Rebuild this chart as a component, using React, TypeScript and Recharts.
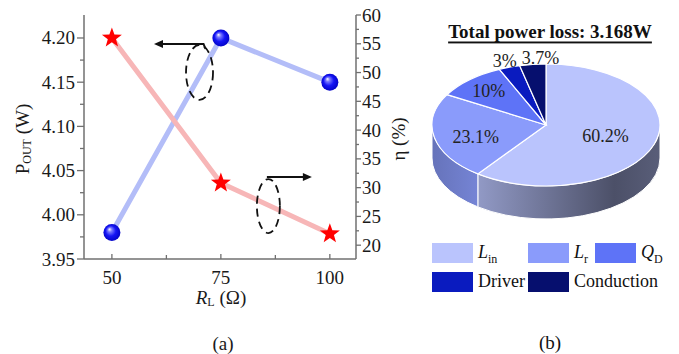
import React from 'react';
import { LineChart, Line, XAxis, YAxis, ReferenceDot, PieChart, Pie, Legend } from 'recharts';

const FONT = '"Liberation Serif", "Times New Roman", serif';
const AXIS = '#707070';
const INK = '#1a1a1a';

// ---------- panel (a) data ----------
const loadResistance = [50, 75, 100];
const outputPower = [3.98, 4.2, 4.15];
const efficiency = [56, 30.8, 22.0];

const xTicks = [50, 62.5, 75, 87.5, 100];
const xMajor = [50, 75, 100];
const leftTicks = [3.95, 3.975, 4.0, 4.025, 4.05, 4.075, 4.1, 4.125, 4.15, 4.175, 4.2];
const leftMajor = [3.95, 4.0, 4.05, 4.1, 4.15, 4.2];
const rightTicks = [20, 22.5, 25, 27.5, 30, 32.5, 35, 37.5, 40, 42.5, 45, 47.5, 50, 52.5, 55, 57.5, 60];
const rightMajor = [20, 25, 30, 35, 40, 45, 50, 55, 60];

// ---------- panel (b) data ----------
const lossNames = ['Lin', 'Lr', 'QD', 'Driver', 'Conduction'];
const lossShares = [60.2, 23.1, 10, 3, 3.7];
const lossLabels = ['60.2%', '23.1%', '10%', '3%', '3.7%'];
const lossLegendMain = ['L', 'L', 'Q', 'Driver', 'Conduction'];
const lossLegendSub = ['in', 'r', 'D', '', ''];
const lossColors = ['#bac4fd', '#8a9bfb', '#5e73f7', '#0a1bbf', '#060f6e'];

const lineData = loadResistance.map((load, i) => ({ load, pout: outputPower[i], eta: efficiency[i] }));
const pieData = lossNames.map((name, i) => ({ name, value: lossShares[i] }));

const isIn = (arr: number[], v: number) => arr.some((m) => Math.abs(m - v) < 1e-6);

// ---------- ticks ----------
const LeftTick = (p: any) => {
  const { x, y, payload } = p;
  const major = isIn(leftMajor, payload.value);
  return (
    <g>
      <line x1={x} x2={x - (major ? 7 : 4)} y1={y} y2={y} stroke={AXIS} strokeWidth={1.3} />
      {major && (
        <text x={x - 9} y={y} textAnchor="end" dominantBaseline="central" fontSize={19} fontFamily={FONT} fill={INK}>
          {payload.value.toFixed(2)}
        </text>
      )}
    </g>
  );
};

const RightTick = (p: any) => {
  const { x, y, payload } = p;
  const major = isIn(rightMajor, payload.value);
  return (
    <g>
      <line x1={x} x2={x + (major ? 5 : 3)} y1={y} y2={y} stroke={AXIS} strokeWidth={1.3} />
      {major && (
        <text x={x + 6} y={y} textAnchor="start" dominantBaseline="central" fontSize={19} fontFamily={FONT} fill={INK}>
          {payload.value}
        </text>
      )}
    </g>
  );
};

const BottomTick = (p: any) => {
  const { x, y, payload } = p;
  const major = isIn(xMajor, payload.value);
  return (
    <g>
      <line x1={x} x2={x} y1={y} y2={y - (major ? 5 : 4)} stroke={AXIS} strokeWidth={1.3} />
      {major && (
        <text x={x} y={y + 18} textAnchor="middle" dominantBaseline="central" fontSize={19} fontFamily={FONT} fill={INK}>
          {payload.value}
        </text>
      )}
    </g>
  );
};

const TopTick = (p: any) => {
  const { x, y, payload } = p;
  const major = isIn(xMajor, payload.value);
  return <line x1={x} x2={x} y1={y} y2={y + (major ? 5 : 4)} stroke={AXIS} strokeWidth={1.3} />;
};

// ---------- markers ----------
const Sphere = (p: any) => {
  const { cx, cy, index } = p;
  if (cx == null || cy == null) return <g key={`sph-${index}`} />;
  const id = `sphere-grad-${index}`;
  return (
    <g key={`sph-${index}`}>
      <defs>
        <radialGradient id={id} cx="50%" cy="50%" r="55%" fx="35%" fy="30%">
          <stop offset="0" stopColor="#ffffff" />
          <stop offset="0.22" stopColor="#7a7aff" />
          <stop offset="0.55" stopColor="#1515f5" />
          <stop offset="1" stopColor="#0000c0" />
        </radialGradient>
      </defs>
      <circle cx={cx} cy={cy} r={8.5} fill={`url(#${id})`} />
    </g>
  );
};

const Star = (p: any) => {
  const { cx, cy, index } = p;
  if (cx == null || cy == null) return <g key={`star-${index}`} />;
  const R = 10.5;
  const r = 4.3;
  const pts: string[] = [];
  for (let k = 0; k < 10; k++) {
    const a = ((-90 + k * 36) * Math.PI) / 180;
    const rad = k % 2 === 0 ? R : r;
    pts.push(`${cx + rad * Math.cos(a)},${cy + rad * Math.sin(a)}`);
  }
  return <polygon key={`star-${index}`} points={pts.join(' ')} fill="#ff0000" />;
};

// ---------- annotations ----------
const LeftNote = (p: any) => {
  const { cx, cy } = p;
  const ay = cy - 28.5;
  const tip = cx - 45.5;
  return (
    <g>
      <ellipse cx={cx} cy={cy} rx={13.5} ry={27.5} fill="none" stroke="#111" strokeWidth={1.8} strokeDasharray="8 5" />
      <polyline points={`${cx + 6},${ay + 5} ${cx + 4},${ay} ${tip + 7},${ay}`} fill="none" stroke="#111" strokeWidth={2} />
      <polygon points={`${tip},${ay} ${tip + 9},${ay - 4} ${tip + 9},${ay + 4}`} fill="#111" />
    </g>
  );
};

const RightNote = (p: any) => {
  const { cx, cy } = p;
  const ay = cy - 29;
  const tip = cx + 43.5;
  return (
    <g>
      <ellipse cx={cx} cy={cy} rx={11.5} ry={27} fill="none" stroke="#111" strokeWidth={1.8} strokeDasharray="8 5" />
      <line x1={cx - 1.5} y1={ay} x2={tip - 7} y2={ay} stroke="#111" strokeWidth={2} />
      <polygon points={`${tip},${ay} ${tip - 9},${ay - 4} ${tip - 9},${ay + 4}`} fill="#111" />
    </g>
  );
};

// ---------- axis titles ----------
const LeftTitle = (p: any) => {
  const vb = p.viewBox || { x: 0, y: 15, width: 84, height: 244 };
  const x = vb.x + 22;
  const y = vb.y + vb.height / 2 + 2;
  return (
    <text x={x} y={y} transform={`rotate(-90, ${x}, ${y})`} textAnchor="middle" dominantBaseline="central" fontSize={19} fontFamily={FONT} fill={INK}>
      P<tspan fontSize={12} dy={5}>OUT</tspan>
      <tspan dy={-5}> (W)</tspan>
    </text>
  );
};

const RightTitle = (p: any) => {
  const vb = p.viewBox || { x: 356, y: 15, width: 64, height: 244 };
  const x = vb.x + 42;
  const y = vb.y + vb.height / 2 + 2;
  return (
    <text x={x} y={y} transform={`rotate(-90, ${x}, ${y})`} textAnchor="middle" dominantBaseline="central" fontSize={19} fontFamily={FONT} fill={INK}>
      η (%)
    </text>
  );
};

const BottomTitle = (p: any) => {
  const vb = p.viewBox || { x: 84, y: 259, width: 272, height: 95 };
  const x = vb.x + vb.width / 2;
  return (
    <g>
      <text x={x + 1} y={vb.y + 38} textAnchor="middle" dominantBaseline="central" fontSize={19} fontFamily={FONT} fill={INK}>
        <tspan fontStyle="italic">R</tspan>
        <tspan fontSize={12} dy={5}>L</tspan>
        <tspan dy={-5}> (Ω)</tspan>
      </text>
      <text x={x + 3} y={vb.y + 84} textAnchor="middle" dominantBaseline="central" fontSize={19} fontFamily={FONT} fill={INK}>
        (a)
      </text>
    </g>
  );
};

// ---------- 3D pie ----------
const RY_RATIO = 0.535;
const DEPTH = 33;

const shade = (hex: string, f: number) => {
  const n = parseInt(hex.slice(1), 16);
  const c = [(n >> 16) & 255, (n >> 8) & 255, n & 255].map((v) => Math.max(0, Math.min(255, Math.round(v * f))));
  return `rgb(${c[0]},${c[1]},${c[2]})`;
};

const renderSlice = (props: any) => {
  const { cx, cy, outerRadius, startAngle, endAngle, midAngle, index, percent } = props;
  const R = outerRadius;
  const RY = R * RY_RATIO;
  const rad = (a: number) => (a * Math.PI) / 180;
  const pt = (a: number, dy = 0) => [cx + R * Math.cos(rad(a)), cy - RY * Math.sin(rad(a)) + dy];
  const color = lossColors[index];
  const [sx, sy] = pt(startAngle);
  const [ex, ey] = pt(endAngle);
  const large = Math.abs(startAngle - endAngle) > 180 ? 1 : 0;
  const face = `M${cx},${cy} L${sx},${sy} A${R},${RY} 0 ${large} 1 ${ex},${ey} Z`;
  const a1 = Math.min(startAngle, 0);
  const a2 = Math.max(endAngle, -180);
  const gid = `pie-side-${index}`;
  let side: React.ReactNode = null;
  if (a1 > a2) {
    const [x1, y1] = pt(a1);
    const [x2, y2] = pt(a2);
    const d = `M${x1},${y1} A${R},${RY} 0 0 1 ${x2},${y2} L${x2},${y2 + DEPTH} A${R},${RY} 0 0 0 ${x1},${y1 + DEPTH} Z`;
    side = (
      <g>
        <defs>
          <linearGradient id={gid} gradientUnits="userSpaceOnUse" x1={cx - R} y1={0} x2={cx + R} y2={0}>
            <stop offset="0" stopColor={shade(color, 0.74)} />
            <stop offset="0.2" stopColor={shade(color, 0.85)} />
            <stop offset="0.205" stopColor={shade(color, 0.78)} />
            <stop offset="0.8" stopColor={shade(color, 0.41)} />
            <stop offset="1" stopColor={shade(color, 0.48)} />
          </linearGradient>
        </defs>
        <path d={d} fill={`url(#${gid})`} stroke="#ffffff" strokeWidth={1} />
      </g>
    );
  }
  const small = percent < 0.05;
  const f = small ? 1.1 : percent > 0.5 ? 0.55 : percent > 0.2 ? 0.63 : 0.75;
  const cosM = Math.cos(rad(midAngle));
  const sinM = Math.sin(rad(midAngle));
  const dx = small ? (cosM < -0.2 ? -1 : 9) : 0;
  const lx = cx + R * f * cosM + dx;
  const ly = cy - RY * f * sinM + (percent > 0.2 && percent < 0.5 ? 4 : 0);
  return (
    <g key={`slice-${index}`}>
      {side}
      <path d={face} fill={color} stroke="#ffffff" strokeWidth={1.2} />
      <text x={lx} y={ly} textAnchor="middle" dominantBaseline="central" fontSize={18} fontFamily={FONT} fill="#222">
        {lossLabels[index]}
      </text>
    </g>
  );
};

const legendSlots = [
  [32, 243],
  [128, 243],
  [195, 243],
  [32, 272],
  [128, 272],
];

const LegendBox = () => (
  <div style={{ position: 'relative', width: 279, height: 354 }}>
    {lossNames.map((n, i) => (
      <React.Fragment key={n}>
        <div
          style={{
            position: 'absolute',
            left: legendSlots[i][0],
            top: legendSlots[i][1],
            width: 41,
            height: 20,
            background: lossColors[i],
          }}
        />
        <div
          style={{
            position: 'absolute',
            left: legendSlots[i][0] + 46,
            top: legendSlots[i][1] - 3,
            height: 24,
            lineHeight: '24px',
            fontSize: 18,
            fontFamily: FONT,
            whiteSpace: 'nowrap',
            color: '#111',
          }}
        >
          {lossLegendSub[i] ? (
            <>
              <span style={{ fontStyle: 'italic' }}>{lossLegendMain[i]}</span>
              <span style={{ fontSize: 12, position: 'relative', top: 5 }}>{lossLegendSub[i]}</span>
            </>
          ) : (
            lossLegendMain[i]
          )}
        </div>
      </React.Fragment>
    ))}
  </div>
);

export default function App() {
  const axisLine = { stroke: AXIS, strokeWidth: 1.5 };
  return (
    <div style={{ position: 'absolute', left: 0, top: 0, width: 679, height: 354, background: '#ffffff' }}>
      <div style={{ position: 'absolute', left: 0, top: 0 }}>
        <LineChart width={420} height={354} data={lineData} margin={{ top: 15, right: 0, bottom: 0, left: 0 }}>
          <XAxis
            xAxisId="b"
            dataKey="load"
            type="number"
            domain={[43.6, 106]}
            allowDataOverflow
            ticks={xTicks}
            interval={0}
            height={95}
            tickSize={0}
            tickMargin={0}
            tickLine={false}
            axisLine={axisLine}
            tick={(p: any) => <BottomTick {...p} />}
            label={{ content: (p: any) => <BottomTitle {...p} /> }}
          />
          <XAxis
            xAxisId="t"
            orientation="top"
            dataKey="load"
            type="number"
            domain={[43.6, 106]}
            allowDataOverflow
            ticks={xTicks}
            interval={0}
            height={0}
            tickSize={0}
            tickMargin={0}
            tickLine={false}
            axisLine={axisLine}
            tick={(p: any) => <TopTick {...p} />}
          />
          <YAxis
            yAxisId="l"
            type="number"
            domain={[3.95, 4.226]}
            allowDataOverflow
            ticks={leftTicks}
            interval={0}
            width={84}
            tickSize={0}
            tickMargin={0}
            tickLine={false}
            axisLine={axisLine}
            tick={(p: any) => <LeftTick {...p} />}
            label={{ content: (p: any) => <LeftTitle {...p} /> }}
          />
          <YAxis
            yAxisId="r"
            orientation="right"
            type="number"
            domain={[17.6, 60]}
            allowDataOverflow
            ticks={rightTicks}
            interval={0}
            width={64}
            tickSize={0}
            tickMargin={0}
            tickLine={false}
            axisLine={axisLine}
            tick={(p: any) => <RightTick {...p} />}
            label={{ content: (p: any) => <RightTitle {...p} /> }}
          />
          <Line
            xAxisId="b"
            yAxisId="l"
            type="linear"
            dataKey="pout"
            stroke="#b3bdf8"
            strokeWidth={5}
            dot={(p: any) => <Sphere key={`sph-${p.index}`} {...p} />}
            activeDot={false}
            isAnimationActive={false}
          />
          <Line
            xAxisId="b"
            yAxisId="r"
            type="linear"
            dataKey="eta"
            stroke="#f7b6b7"
            strokeWidth={5}
            dot={(p: any) => <Star key={`star-${p.index}`} {...p} />}
            activeDot={false}
            isAnimationActive={false}
          />
          <ReferenceDot xAxisId="b" yAxisId="l" x={70.1} y={4.161} ifOverflow="visible" shape={(p: any) => <LeftNote {...p} />} />
          <ReferenceDot xAxisId="b" yAxisId="r" x={85.9} y={26.8} ifOverflow="visible" shape={(p: any) => <RightNote {...p} />} />
        </LineChart>
      </div>
      <div style={{ position: 'absolute', left: 400, top: 0 }}>
        <PieChart width={279} height={354} margin={{ top: 0, right: 0, bottom: 0, left: 0 }}>
          <text x={150} y={31} textAnchor="middle" dominantBaseline="central" fontSize={19} fontWeight="bold" fontFamily={FONT} fill="#111" textDecoration="underline">
            Total power loss: 3.168W
          </text>
          <Pie
            data={pieData}
            dataKey="value"
            nameKey="name"
            cx={146}
            cy={125}
            outerRadius={114}
            startAngle={90}
            endAngle={-270}
            fill="transparent"
            stroke="none"
            label={renderSlice}
            labelLine={false}
            isAnimationActive={false}
          />
          <text x={150} y={342} textAnchor="middle" dominantBaseline="central" fontSize={19} fontFamily={FONT} fill="#111">
            (b)
          </text>
          <Legend
            layout="horizontal"
            verticalAlign="middle"
            align="center"
            content={() => <LegendBox />}
            wrapperStyle={{ left: 0, top: 0, width: 279, height: 354, pointerEvents: 'none' }}
          />
        </PieChart>
      </div>
    </div>
  );
}
